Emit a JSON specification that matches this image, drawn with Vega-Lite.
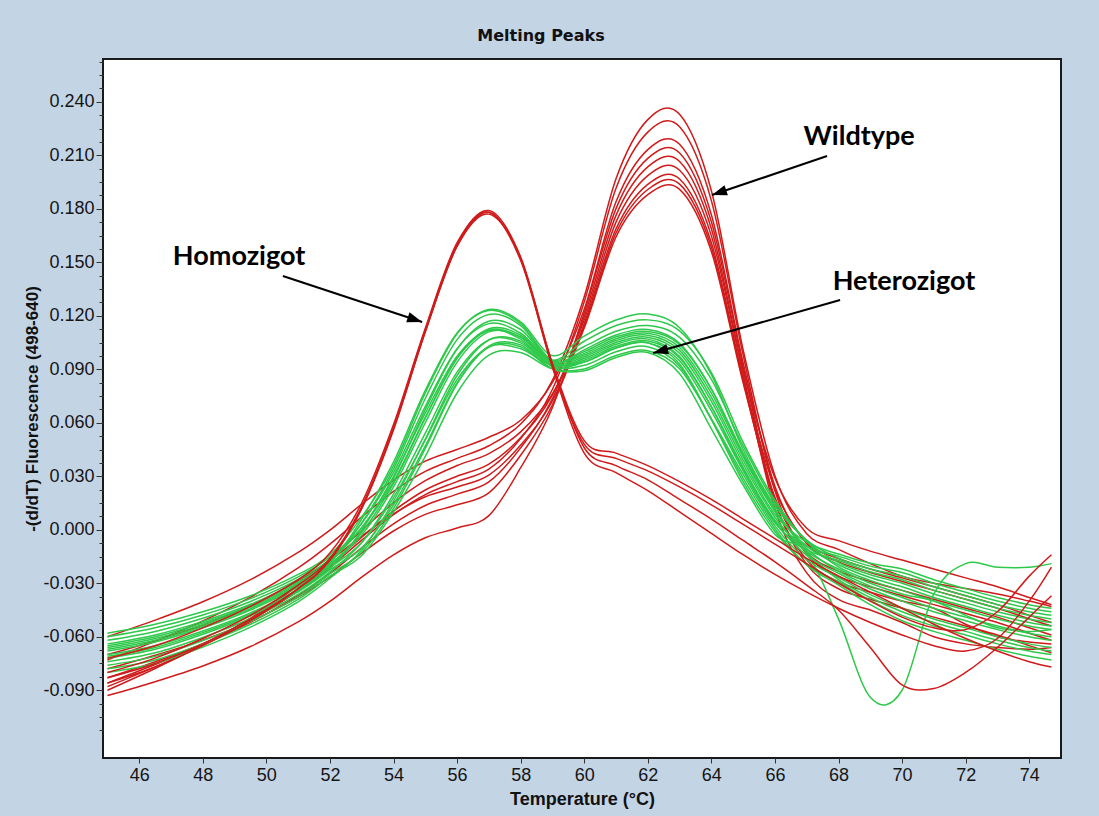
{
  "$schema": "https://vega.github.io/schema/vega-lite/v6.json",
  "width": 958,
  "height": 699,
  "autosize": {"type": "none"},
  "padding": {"left": 103, "top": 59, "right": 38, "bottom": 58},
  "background": "#c3d4e5",
  "title": {
    "text": "Melting Peaks",
    "font": "DejaVu Sans",
    "fontSize": 16,
    "fontWeight": "bold",
    "color": "#111111",
    "anchor": "middle",
    "dx": -41,
    "dy": 5,
    "offset": 1,
    "baseline": "alphabetic"
  },
  "config": {
    "view": {"fill": "white", "stroke": "#1a1a1a", "strokeWidth": 2}
  },
  "datasets": {
    "wildtype": [
      {"c":"W1","t":45,"v":-0.073},{"c":"W1","t":46.5,"v":-0.0626},{"c":"W1","t":48,"v":-0.0512},{"c":"W1","t":49.5,"v":-0.0378},{"c":"W1","t":51,"v":-0.0214},{"c":"W1","t":52,"v":-0.0081},{"c":"W1","t":53,"v":0.0072},{"c":"W1","t":54,"v":0.0215},{"c":"W1","t":55,"v":0.0327},{"c":"W1","t":56,"v":0.040},{"c":"W1","t":57,"v":0.0471},{"c":"W1","t":58,"v":0.0593},{"c":"W1","t":59,"v":0.0838},{"c":"W1","t":60,"v":0.1307},{"c":"W1","t":61,"v":0.1968},{"c":"W1","t":62,"v":0.2300},{"c":"W1","t":63,"v":0.2330},{"c":"W1","t":64,"v":0.1901},{"c":"W1","t":65,"v":0.1009},{"c":"W1","t":66,"v":0.0303},{"c":"W1","t":67,"v":-0.0022},{"c":"W1","t":68,"v":-0.011},{"c":"W1","t":69,"v":-0.019},{"c":"W1","t":70,"v":-0.026},{"c":"W1","t":71,"v":-0.030},{"c":"W1","t":72,"v":-0.033},{"c":"W1","t":73,"v":-0.036},{"c":"W1","t":74,"v":-0.040},{"c":"W1","t":74.7,"v":-0.043},
      {"c":"W2","t":45,"v":-0.086},{"c":"W2","t":46.5,"v":-0.0756},{"c":"W2","t":48,"v":-0.0642},{"c":"W2","t":49.5,"v":-0.0508},{"c":"W2","t":51,"v":-0.0344},{"c":"W2","t":52,"v":-0.0211},{"c":"W2","t":53,"v":-0.0058},{"c":"W2","t":54,"v":0.0085},{"c":"W2","t":55,"v":0.0197},{"c":"W2","t":56,"v":0.027},{"c":"W2","t":57,"v":0.034},{"c":"W2","t":58,"v":0.0511},{"c":"W2","t":59,"v":0.0788},{"c":"W2","t":60,"v":0.1278},{"c":"W2","t":61,"v":0.1915},{"c":"W2","t":62,"v":0.223},{"c":"W2","t":63,"v":0.226},{"c":"W2","t":64,"v":0.1846},{"c":"W2","t":65,"v":0.0979},{"c":"W2","t":66,"v":0.0218},{"c":"W2","t":67,"v":-0.0137},{"c":"W2","t":68,"v":-0.026},{"c":"W2","t":69,"v":-0.032},{"c":"W2","t":70,"v":-0.037},{"c":"W2","t":71,"v":-0.042},{"c":"W2","t":72,"v":-0.047},{"c":"W2","t":73,"v":-0.052},{"c":"W2","t":74,"v":-0.058},{"c":"W2","t":74.7,"v":-0.062},
      {"c":"W3","t":45,"v":-0.060},{"c":"W3","t":46.5,"v":-0.0507},{"c":"W3","t":48,"v":-0.0404},{"c":"W3","t":49.5,"v":-0.028},{"c":"W3","t":51,"v":-0.0127},{"c":"W3","t":52,"v":-0.0002},{"c":"W3","t":53,"v":0.0144},{"c":"W3","t":54,"v":0.0279},{"c":"W3","t":55,"v":0.0385},{"c":"W3","t":56,"v":0.045},{"c":"W3","t":57,"v":0.0519},{"c":"W3","t":58,"v":0.0614},{"c":"W3","t":59,"v":0.0826},{"c":"W3","t":60,"v":0.1237},{"c":"W3","t":61,"v":0.1839},{"c":"W3","t":62,"v":0.2132},{"c":"W3","t":63,"v":0.2162},{"c":"W3","t":64,"v":0.1767},{"c":"W3","t":65,"v":0.0936},{"c":"W3","t":66,"v":0.0244},{"c":"W3","t":67,"v":-0.0079},{"c":"W3","t":68,"v":-0.018},{"c":"W3","t":69,"v":-0.024},{"c":"W3","t":70,"v":-0.029},{"c":"W3","t":71,"v":-0.034},{"c":"W3","t":72,"v":-0.039},{"c":"W3","t":73,"v":-0.044},{"c":"W3","t":74,"v":-0.050},{"c":"W3","t":74.7,"v":-0.054},
      {"c":"W4","t":45,"v":-0.093},{"c":"W4","t":46.5,"v":-0.0852},{"c":"W4","t":48,"v":-0.0764},{"c":"W4","t":49.5,"v":-0.0655},{"c":"W4","t":51,"v":-0.0517},{"c":"W4","t":52,"v":-0.0402},{"c":"W4","t":53,"v":-0.0266},{"c":"W4","t":54,"v":-0.0141},{"c":"W4","t":55,"v":-0.0045},{"c":"W4","t":56,"v":0.001},{"c":"W4","t":57,"v":0.0079},{"c":"W4","t":58,"v":0.0348},{"c":"W4","t":59,"v":0.0686},{"c":"W4","t":60,"v":0.1217},{"c":"W4","t":61,"v":0.1801},{"c":"W4","t":62,"v":0.2083},{"c":"W4","t":63,"v":0.2113},{"c":"W4","t":64,"v":0.1727},{"c":"W4","t":65,"v":0.0914},{"c":"W4","t":66,"v":0.0162},{"c":"W4","t":67,"v":-0.0194},{"c":"W4","t":68,"v":-0.0331},{"c":"W4","t":69,"v":-0.039},{"c":"W4","t":70,"v":-0.044},{"c":"W4","t":71,"v":-0.049},{"c":"W4","t":72,"v":-0.054},{"c":"W4","t":73,"v":-0.059},{"c":"W4","t":74,"v":-0.065},{"c":"W4","t":74.7,"v":-0.069},
      {"c":"W5","t":45,"v":-0.083},{"c":"W5","t":46.5,"v":-0.074},{"c":"W5","t":48,"v":-0.0639},{"c":"W5","t":49.5,"v":-0.0519},{"c":"W5","t":51,"v":-0.0368},{"c":"W5","t":52,"v":-0.0245},{"c":"W5","t":53,"v":-0.0101},{"c":"W5","t":54,"v":0.0033},{"c":"W5","t":55,"v":0.0136},{"c":"W5","t":56,"v":0.020},{"c":"W5","t":57,"v":0.0268},{"c":"W5","t":58,"v":0.0459},{"c":"W5","t":59,"v":0.0735},{"c":"W5","t":60,"v":0.1196},{"c":"W5","t":61,"v":0.1763},{"c":"W5","t":62,"v":0.2035},{"c":"W5","t":63,"v":0.2065},{"c":"W5","t":64,"v":0.1688},{"c":"W5","t":65,"v":0.0893},{"c":"W5","t":66,"v":0.029},{"c":"W5","t":67,"v":0.0008},{"c":"W5","t":68,"v":-0.0061},{"c":"W5","t":69,"v":-0.012},{"c":"W5","t":70,"v":-0.017},{"c":"W5","t":71,"v":-0.022},{"c":"W5","t":72,"v":-0.027},{"c":"W5","t":73,"v":-0.032},{"c":"W5","t":74,"v":-0.038},{"c":"W5","t":74.7,"v":-0.042},
      {"c":"W6","t":45,"v":-0.088},{"c":"W6","t":46.5,"v":-0.0769},{"c":"W6","t":48,"v":-0.0648},{"c":"W6","t":49.5,"v":-0.0507},{"c":"W6","t":51,"v":-0.0336},{"c":"W6","t":52,"v":-0.0199},{"c":"W6","t":53,"v":-0.0042},{"c":"W6","t":54,"v":0.0105},{"c":"W6","t":55,"v":0.0223},{"c":"W6","t":56,"v":0.030},{"c":"W6","t":57,"v":0.0368},{"c":"W6","t":58,"v":0.0517},{"c":"W6","t":59,"v":0.0757},{"c":"W6","t":60,"v":0.1176},{"c":"W6","t":61,"v":0.1725},{"c":"W6","t":62,"v":0.1986},{"c":"W6","t":63,"v":0.2016},{"c":"W6","t":64,"v":0.1648},{"c":"W6","t":65,"v":0.0871},{"c":"W6","t":66,"v":0.0118},{"c":"W6","t":67,"v":-0.0242},{"c":"W6","t":68,"v":-0.0391},{"c":"W6","t":69,"v":-0.045},{"c":"W6","t":70,"v":-0.052},{"c":"W6","t":71,"v":-0.060},{"c":"W6","t":72,"v":-0.064},{"c":"W6","t":73,"v":-0.066},{"c":"W6","t":74,"v":-0.067},{"c":"W6","t":74.7,"v":-0.066},
      {"c":"W7","t":45,"v":-0.078},{"c":"W7","t":46.5,"v":-0.0704},{"c":"W7","t":48,"v":-0.0619},{"c":"W7","t":49.5,"v":-0.0514},{"c":"W7","t":51,"v":-0.0378},{"c":"W7","t":52,"v":-0.0264},{"c":"W7","t":53,"v":-0.0131},{"c":"W7","t":54,"v":-0.0007},{"c":"W7","t":55,"v":0.0086},{"c":"W7","t":56,"v":0.014},{"c":"W7","t":57,"v":0.0207},{"c":"W7","t":58,"v":0.0418},{"c":"W7","t":59,"v":0.0701},{"c":"W7","t":60,"v":0.1155},{"c":"W7","t":61,"v":0.1687},{"c":"W7","t":62,"v":0.1937},{"c":"W7","t":63,"v":0.1967},{"c":"W7","t":64,"v":0.1609},{"c":"W7","t":65,"v":0.085},{"c":"W7","t":66,"v":0.0226},{"c":"W7","t":67,"v":-0.007},{"c":"W7","t":68,"v":-0.0161},{"c":"W7","t":69,"v":-0.022},{"c":"W7","t":70,"v":-0.027},{"c":"W7","t":71,"v":-0.032},{"c":"W7","t":72,"v":-0.037},{"c":"W7","t":73,"v":-0.042},{"c":"W7","t":74,"v":-0.048},{"c":"W7","t":74.7,"v":-0.052},
      {"c":"W8","t":45,"v":-0.090},{"c":"W8","t":46.5,"v":-0.0778},{"c":"W8","t":48,"v":-0.0646},{"c":"W8","t":49.5,"v":-0.0495},{"c":"W8","t":51,"v":-0.0313},{"c":"W8","t":52,"v":-0.0168},{"c":"W8","t":53,"v":-0.0004},{"c":"W8","t":54,"v":0.0151},{"c":"W8","t":55,"v":0.0275},{"c":"W8","t":56,"v":0.036},{"c":"W8","t":57,"v":0.0427},{"c":"W8","t":58,"v":0.0549},{"c":"W8","t":59,"v":0.0762},{"c":"W8","t":60,"v":0.1143},{"c":"W8","t":61,"v":0.1664},{"c":"W8","t":62,"v":0.1908},{"c":"W8","t":63,"v":0.1938},{"c":"W8","t":64,"v":0.1585},{"c":"W8","t":65,"v":0.0837},{"c":"W8","t":66,"v":0.0157},{"c":"W8","t":67,"v":-0.0169},{"c":"W8","t":68,"v":-0.0292},{"c":"W8","t":69,"v":-0.035},{"c":"W8","t":70,"v":-0.040},{"c":"W8","t":71,"v":-0.044},{"c":"W8","t":72,"v":-0.053},{"c":"W8","t":73,"v":-0.060},{"c":"W8","t":74,"v":-0.063},{"c":"W8","t":74.7,"v":-0.064},
      {"c":"W9","t":45,"v":-0.070},{"c":"W9","t":46.5,"v":-0.0622},{"c":"W9","t":48,"v":-0.0534},{"c":"W9","t":49.5,"v":-0.0425},{"c":"W9","t":51,"v":-0.0287},{"c":"W9","t":52,"v":-0.0172},{"c":"W9","t":53,"v":-0.0036},{"c":"W9","t":54,"v":0.0089},{"c":"W9","t":55,"v":0.0185},{"c":"W9","t":56,"v":0.024},{"c":"W9","t":57,"v":0.0307},{"c":"W9","t":58,"v":0.0475},{"c":"W9","t":59,"v":0.0722},{"c":"W9","t":60,"v":0.1131},{"c":"W9","t":61,"v":0.1642},{"c":"W9","t":62,"v":0.1879},{"c":"W9","t":63,"v":0.1909},{"c":"W9","t":64,"v":0.1561},{"c":"W9","t":65,"v":0.0824},{"c":"W9","t":66,"v":0.0182},{"c":"W9","t":67,"v":-0.0125},{"c":"W9","t":68,"v":-0.0232},{"c":"W9","t":69,"v":-0.029},{"c":"W9","t":70,"v":-0.034},{"c":"W9","t":71,"v":-0.039},{"c":"W9","t":72,"v":-0.044},{"c":"W9","t":73,"v":-0.049},{"c":"W9","t":74,"v":-0.055},{"c":"W9","t":74.7,"v":-0.059}
    ],
    "homozygous": [
      {"c":"H1","t":45,"v":-0.080},{"c":"H1","t":46.5,"v":-0.072},{"c":"H1","t":48,"v":-0.061},{"c":"H1","t":49.5,"v":-0.048},{"c":"H1","t":51,"v":-0.031},{"c":"H1","t":52,"v":-0.016},{"c":"H1","t":53,"v":0.013},{"c":"H1","t":54,"v":0.057},{"c":"H1","t":55,"v":0.112},{"c":"H1","t":56,"v":0.160},{"c":"H1","t":57,"v":0.179},{"c":"H1","t":58,"v":0.153},{"c":"H1","t":59,"v":0.093},{"c":"H1","t":60,"v":0.046},{"c":"H1","t":61,"v":0.036},{"c":"H1","t":62,"v":0.028},{"c":"H1","t":63,"v":0.017},{"c":"H1","t":64,"v":0.006},{"c":"H1","t":65,"v":-0.006},{"c":"H1","t":66,"v":-0.018},{"c":"H1","t":67,"v":-0.031},{"c":"H1","t":68,"v":-0.045},{"c":"H1","t":69,"v":-0.066},{"c":"H1","t":70,"v":-0.087},{"c":"H1","t":71,"v":-0.089},{"c":"H1","t":72,"v":-0.080},{"c":"H1","t":73,"v":-0.066},{"c":"H1","t":74,"v":-0.049},{"c":"H1","t":74.7,"v":-0.037},
      {"c":"H2","t":45,"v":-0.086},{"c":"H2","t":46.5,"v":-0.077},{"c":"H2","t":48,"v":-0.065},{"c":"H2","t":49.5,"v":-0.051},{"c":"H2","t":51,"v":-0.033},{"c":"H2","t":52,"v":-0.017},{"c":"H2","t":53,"v":0.012},{"c":"H2","t":54,"v":0.056},{"c":"H2","t":55,"v":0.111},{"c":"H2","t":56,"v":0.159},{"c":"H2","t":57,"v":0.177},{"c":"H2","t":58,"v":0.152},{"c":"H2","t":59,"v":0.092},{"c":"H2","t":60,"v":0.048},{"c":"H2","t":61,"v":0.040},{"c":"H2","t":62,"v":0.033},{"c":"H2","t":63,"v":0.024},{"c":"H2","t":64,"v":0.014},{"c":"H2","t":65,"v":0.003},{"c":"H2","t":66,"v":-0.008},{"c":"H2","t":67,"v":-0.019},{"c":"H2","t":68,"v":-0.030},{"c":"H2","t":69,"v":-0.040},{"c":"H2","t":70,"v":-0.049},{"c":"H2","t":71,"v":-0.055},{"c":"H2","t":72,"v":-0.056},{"c":"H2","t":73,"v":-0.046},{"c":"H2","t":74,"v":-0.026},{"c":"H2","t":74.7,"v":-0.014},
      {"c":"H3","t":45,"v":-0.072},{"c":"H3","t":46.5,"v":-0.065},{"c":"H3","t":48,"v":-0.055},{"c":"H3","t":49.5,"v":-0.043},{"c":"H3","t":51,"v":-0.028},{"c":"H3","t":52,"v":-0.013},{"c":"H3","t":53,"v":0.015},{"c":"H3","t":54,"v":0.059},{"c":"H3","t":55,"v":0.113},{"c":"H3","t":56,"v":0.161},{"c":"H3","t":57,"v":0.178},{"c":"H3","t":58,"v":0.151},{"c":"H3","t":59,"v":0.091},{"c":"H3","t":60,"v":0.043},{"c":"H3","t":61,"v":0.032},{"c":"H3","t":62,"v":0.022},{"c":"H3","t":63,"v":0.010},{"c":"H3","t":64,"v":-0.002},{"c":"H3","t":65,"v":-0.014},{"c":"H3","t":66,"v":-0.025},{"c":"H3","t":67,"v":-0.035},{"c":"H3","t":68,"v":-0.044},{"c":"H3","t":69,"v":-0.052},{"c":"H3","t":70,"v":-0.059},{"c":"H3","t":71,"v":-0.065},{"c":"H3","t":72,"v":-0.068},{"c":"H3","t":73,"v":-0.061},{"c":"H3","t":74,"v":-0.040},{"c":"H3","t":74.7,"v":-0.021},
      {"c":"H4","t":45,"v":-0.083},{"c":"H4","t":46.5,"v":-0.075},{"c":"H4","t":48,"v":-0.064},{"c":"H4","t":49.5,"v":-0.050},{"c":"H4","t":51,"v":-0.033},{"c":"H4","t":52,"v":-0.017},{"c":"H4","t":53,"v":0.012},{"c":"H4","t":54,"v":0.057},{"c":"H4","t":55,"v":0.111},{"c":"H4","t":56,"v":0.159},{"c":"H4","t":57,"v":0.178},{"c":"H4","t":58,"v":0.152},{"c":"H4","t":59,"v":0.093},{"c":"H4","t":60,"v":0.050},{"c":"H4","t":61,"v":0.043},{"c":"H4","t":62,"v":0.036},{"c":"H4","t":63,"v":0.027},{"c":"H4","t":64,"v":0.017},{"c":"H4","t":65,"v":0.006},{"c":"H4","t":66,"v":-0.005},{"c":"H4","t":67,"v":-0.016},{"c":"H4","t":68,"v":-0.026},{"c":"H4","t":69,"v":-0.035},{"c":"H4","t":70,"v":-0.044},{"c":"H4","t":71,"v":-0.053},{"c":"H4","t":72,"v":-0.061},{"c":"H4","t":73,"v":-0.068},{"c":"H4","t":74,"v":-0.074},{"c":"H4","t":74.7,"v":-0.077}
    ],
    "heterozygous": [
      {"c":"G1","t":45,"v":-0.058},{"c":"G1","t":46.5,"v":-0.053},{"c":"G1","t":48,"v":-0.046},{"c":"G1","t":49.5,"v":-0.037},{"c":"G1","t":51,"v":-0.025},{"c":"G1","t":52,"v":-0.014},{"c":"G1","t":53,"v":0.0072},{"c":"G1","t":54,"v":0.036},{"c":"G1","t":55,"v":0.0768},{"c":"G1","t":56,"v":0.1099},{"c":"G1","t":57,"v":0.1235},{"c":"G1","t":58,"v":0.1166},{"c":"G1","t":59,"v":0.0977},{"c":"G1","t":60,"v":0.1086},{"c":"G1","t":61,"v":0.1176},{"c":"G1","t":62,"v":0.121},{"c":"G1","t":63,"v":0.1133},{"c":"G1","t":64,"v":0.087},{"c":"G1","t":65,"v":0.045},{"c":"G1","t":66,"v":0.0134},{"c":"G1","t":67,"v":-0.0058},{"c":"G1","t":68,"v":-0.016},{"c":"G1","t":69,"v":-0.022},{"c":"G1","t":70,"v":-0.026},{"c":"G1","t":71,"v":-0.032},{"c":"G1","t":72,"v":-0.037},{"c":"G1","t":73,"v":-0.042},{"c":"G1","t":74,"v":-0.046},{"c":"G1","t":74.7,"v":-0.048},
      {"c":"G2","t":45,"v":-0.072},{"c":"G2","t":46.5,"v":-0.067},{"c":"G2","t":48,"v":-0.0586},{"c":"G2","t":49.5,"v":-0.0482},{"c":"G2","t":51,"v":-0.0348},{"c":"G2","t":52,"v":-0.0224},{"c":"G2","t":53,"v":-0.0102},{"c":"G2","t":54,"v":0.014},{"c":"G2","t":55,"v":0.047},{"c":"G2","t":56,"v":0.0823},{"c":"G2","t":57,"v":0.1025},{"c":"G2","t":58,"v":0.1026},{"c":"G2","t":59,"v":0.0902},{"c":"G2","t":60,"v":0.0902},{"c":"G2","t":61,"v":0.0977},{"c":"G2","t":62,"v":0.1004},{"c":"G2","t":63,"v":0.0903},{"c":"G2","t":64,"v":0.0622},{"c":"G2","t":65,"v":0.031},{"c":"G2","t":66,"v":0.0022},{"c":"G2","t":67,"v":-0.0168},{"c":"G2","t":68,"v":-0.0268},{"c":"G2","t":69,"v":-0.0364},{"c":"G2","t":70,"v":-0.044},{"c":"G2","t":71,"v":-0.050},{"c":"G2","t":72,"v":-0.055},{"c":"G2","t":73,"v":-0.060},{"c":"G2","t":74,"v":-0.064},{"c":"G2","t":74.7,"v":-0.066},
      {"c":"G3","t":45,"v":-0.064},{"c":"G3","t":46.5,"v":-0.059},{"c":"G3","t":48,"v":-0.0514},{"c":"G3","t":49.5,"v":-0.0418},{"c":"G3","t":51,"v":-0.0292},{"c":"G3","t":52,"v":-0.0176},{"c":"G3","t":53,"v":0.0012},{"c":"G3","t":54,"v":0.029},{"c":"G3","t":55,"v":0.0674},{"c":"G3","t":56,"v":0.1013},{"c":"G3","t":57,"v":0.1169},{"c":"G3","t":58,"v":0.1123},{"c":"G3","t":59,"v":0.0944},{"c":"G3","t":60,"v":0.0989},{"c":"G3","t":61,"v":0.1071},{"c":"G3","t":62,"v":0.1102},{"c":"G3","t":63,"v":0.1022},{"c":"G3","t":64,"v":0.0766},{"c":"G3","t":65,"v":0.041},{"c":"G3","t":66,"v":0.0102},{"c":"G3","t":67,"v":-0.0092},{"c":"G3","t":68,"v":-0.0196},{"c":"G3","t":69,"v":-0.0268},{"c":"G3","t":70,"v":-0.032},{"c":"G3","t":71,"v":-0.038},{"c":"G3","t":72,"v":-0.043},{"c":"G3","t":73,"v":-0.048},{"c":"G3","t":74,"v":-0.052},{"c":"G3","t":74.7,"v":-0.054},
      {"c":"G4","t":45,"v":-0.078},{"c":"G4","t":46.5,"v":-0.073},{"c":"G4","t":48,"v":-0.064},{"c":"G4","t":49.5,"v":-0.053},{"c":"G4","t":51,"v":-0.039},{"c":"G4","t":52,"v":-0.026},{"c":"G4","t":53,"v":-0.0144},{"c":"G4","t":54,"v":0.010},{"c":"G4","t":55,"v":0.0412},{"c":"G4","t":56,"v":0.0767},{"c":"G4","t":57,"v":0.0979},{"c":"G4","t":58,"v":0.0994},{"c":"G4","t":59,"v":0.0904},{"c":"G4","t":60,"v":0.0941},{"c":"G4","t":61,"v":0.1019},{"c":"G4","t":62,"v":0.1048},{"c":"G4","t":63,"v":0.093},{"c":"G4","t":64,"v":0.0618},{"c":"G4","t":65,"v":0.027},{"c":"G4","t":66,"v":-0.001},{"c":"G4","t":67,"v":-0.0196},{"c":"G4","t":68,"v":-0.0292},{"c":"G4","t":69,"v":-0.0396},{"c":"G4","t":70,"v":-0.048},{"c":"G4","t":71,"v":-0.054},{"c":"G4","t":72,"v":-0.059},{"c":"G4","t":73,"v":-0.064},{"c":"G4","t":74,"v":-0.068},{"c":"G4","t":74.7,"v":-0.070},
      {"c":"G5","t":45,"v":-0.068},{"c":"G5","t":46.5,"v":-0.063},{"c":"G5","t":48,"v":-0.055},{"c":"G5","t":49.5,"v":-0.045},{"c":"G5","t":51,"v":-0.032},{"c":"G5","t":52,"v":-0.020},{"c":"G5","t":53,"v":-0.003},{"c":"G5","t":54,"v":0.024},{"c":"G5","t":55,"v":0.060},{"c":"G5","t":56,"v":0.094},{"c":"G5","t":57,"v":0.111},{"c":"G5","t":58,"v":0.108},{"c":"G5","t":59,"v":0.093},{"c":"G5","t":60,"v":0.097},{"c":"G5","t":61,"v":0.105},{"c":"G5","t":62,"v":0.108},{"c":"G5","t":63,"v":0.099},{"c":"G5","t":64,"v":0.072},{"c":"G5","t":65,"v":0.037},{"c":"G5","t":66,"v":0.007},{"c":"G5","t":67,"v":-0.012},{"c":"G5","t":68,"v":-0.022},{"c":"G5","t":69,"v":-0.030},{"c":"G5","t":70,"v":-0.036},{"c":"G5","t":71,"v":-0.040},{"c":"G5","t":72,"v":-0.048},{"c":"G5","t":73,"v":-0.055},{"c":"G5","t":74,"v":-0.057},{"c":"G5","t":74.7,"v":-0.056},
      {"c":"G6","t":45,"v":-0.062},{"c":"G6","t":46.5,"v":-0.057},{"c":"G6","t":48,"v":-0.0496},{"c":"G6","t":49.5,"v":-0.0402},{"c":"G6","t":51,"v":-0.0278},{"c":"G6","t":52,"v":-0.0164},{"c":"G6","t":53,"v":0.0036},{"c":"G6","t":54,"v":0.032},{"c":"G6","t":55,"v":0.0692},{"c":"G6","t":56,"v":0.1015},{"c":"G6","t":57,"v":0.1156},{"c":"G6","t":58,"v":0.1102},{"c":"G6","t":59,"v":0.0949},{"c":"G6","t":60,"v":0.1028},{"c":"G6","t":61,"v":0.1113},{"c":"G6","t":62,"v":0.1145},{"c":"G6","t":63,"v":0.1079},{"c":"G6","t":64,"v":0.0843},{"c":"G6","t":65,"v":0.047},{"c":"G6","t":66,"v":0.015},{"c":"G6","t":67,"v":-0.0062},{"c":"G6","t":68,"v":-0.0184},{"c":"G6","t":69,"v":-0.0252},{"c":"G6","t":70,"v":-0.030},{"c":"G6","t":71,"v":-0.036},{"c":"G6","t":72,"v":-0.041},{"c":"G6","t":73,"v":-0.046},{"c":"G6","t":74,"v":-0.050},{"c":"G6","t":74.7,"v":-0.052},
      {"c":"G7","t":45,"v":-0.074},{"c":"G7","t":46.5,"v":-0.069},{"c":"G7","t":48,"v":-0.0604},{"c":"G7","t":49.5,"v":-0.0498},{"c":"G7","t":51,"v":-0.0362},{"c":"G7","t":52,"v":-0.0236},{"c":"G7","t":53,"v":-0.0072},{"c":"G7","t":54,"v":0.020},{"c":"G7","t":55,"v":0.0542},{"c":"G7","t":56,"v":0.0884},{"c":"G7","t":57,"v":0.1065},{"c":"G7","t":58,"v":0.1048},{"c":"G7","t":59,"v":0.0921},{"c":"G7","t":60,"v":0.096},{"c":"G7","t":61,"v":0.104},{"c":"G7","t":62,"v":0.1069},{"c":"G7","t":63,"v":0.0971},{"c":"G7","t":64,"v":0.0689},{"c":"G7","t":65,"v":0.034},{"c":"G7","t":66,"v":0.0046},{"c":"G7","t":67,"v":-0.0144},{"c":"G7","t":68,"v":-0.0244},{"c":"G7","t":69,"v":-0.0332},{"c":"G7","t":70,"v":-0.040},{"c":"G7","t":71,"v":-0.046},{"c":"G7","t":72,"v":-0.051},{"c":"G7","t":73,"v":-0.056},{"c":"G7","t":74,"v":-0.060},{"c":"G7","t":74.7,"v":-0.062},
      {"c":"G8","t":45,"v":-0.066},{"c":"G8","t":46.5,"v":-0.061},{"c":"G8","t":48,"v":-0.0532},{"c":"G8","t":49.5,"v":-0.0434},{"c":"G8","t":51,"v":-0.0306},{"c":"G8","t":52,"v":-0.0188},{"c":"G8","t":53,"v":0.006},{"c":"G8","t":54,"v":0.038},{"c":"G8","t":55,"v":0.0782},{"c":"G8","t":56,"v":0.1104},{"c":"G8","t":57,"v":0.123},{"c":"G8","t":58,"v":0.1156},{"c":"G8","t":59,"v":0.0949},{"c":"G8","t":60,"v":0.098},{"c":"G8","t":61,"v":0.1061},{"c":"G8","t":62,"v":0.1091},{"c":"G8","t":63,"v":0.1006},{"c":"G8","t":64,"v":0.0743},{"c":"G8","t":65,"v":0.039},{"c":"G8","t":66,"v":0.0086},{"c":"G8","t":67,"v":-0.007},{"c":"G8","t":68,"v":-0.0136},{"c":"G8","t":69,"v":-0.0188},{"c":"G8","t":70,"v":-0.022},{"c":"G8","t":71,"v":-0.028},{"c":"G8","t":72,"v":-0.033},{"c":"G8","t":73,"v":-0.038},{"c":"G8","t":74,"v":-0.042},{"c":"G8","t":74.7,"v":-0.044},
      {"c":"G9","t":45,"v":-0.080},{"c":"G9","t":46.5,"v":-0.075},{"c":"G9","t":48,"v":-0.0658},{"c":"G9","t":49.5,"v":-0.0546},{"c":"G9","t":51,"v":-0.0404},{"c":"G9","t":52,"v":-0.0272},{"c":"G9","t":53,"v":-0.0114},{"c":"G9","t":54,"v":0.016},{"c":"G9","t":55,"v":0.0508},{"c":"G9","t":56,"v":0.0865},{"c":"G9","t":57,"v":0.1064},{"c":"G9","t":58,"v":0.1058},{"c":"G9","t":59,"v":0.0914},{"c":"G9","t":60,"v":0.0922},{"c":"G9","t":61,"v":0.0998},{"c":"G9","t":62,"v":0.1026},{"c":"G9","t":63,"v":0.0917},{"c":"G9","t":64,"v":0.062},{"c":"G9","t":65,"v":0.029},{"c":"G9","t":66,"v":0.0006},{"c":"G9","t":67,"v":-0.0197},{"c":"G9","t":68,"v":-0.031},{"c":"G9","t":69,"v":-0.042},{"c":"G9","t":70,"v":-0.051},{"c":"G9","t":71,"v":-0.057},{"c":"G9","t":72,"v":-0.062},{"c":"G9","t":73,"v":-0.067},{"c":"G9","t":74,"v":-0.071},{"c":"G9","t":74.7,"v":-0.073},
      {"c":"G10","t":45,"v":-0.060},{"c":"G10","t":46.5,"v":-0.055},{"c":"G10","t":48,"v":-0.0478},{"c":"G10","t":49.5,"v":-0.0386},{"c":"G10","t":51,"v":-0.0264},{"c":"G10","t":52,"v":-0.0152},{"c":"G10","t":53,"v":0.0012},{"c":"G10","t":54,"v":0.027},{"c":"G10","t":55,"v":0.063},{"c":"G10","t":56,"v":0.0961},{"c":"G10","t":57,"v":0.1119},{"c":"G10","t":58,"v":0.108},{"c":"G10","t":59,"v":0.0951},{"c":"G10","t":60,"v":0.1057},{"c":"G10","t":61,"v":0.1145},{"c":"G10","t":62,"v":0.1177},{"c":"G10","t":63,"v":0.1115},{"c":"G10","t":64,"v":0.0881},{"c":"G10","t":65,"v":0.049},{"c":"G10","t":66,"v":0.0166},{"c":"G10","t":67,"v":-0.0066},{"c":"G10","t":68,"v":-0.0208},{"c":"G10","t":69,"v":-0.0284},{"c":"G10","t":70,"v":-0.034},{"c":"G10","t":71,"v":-0.040},{"c":"G10","t":72,"v":-0.045},{"c":"G10","t":73,"v":-0.050},{"c":"G10","t":74,"v":-0.054},{"c":"G10","t":74.7,"v":-0.056},
      {"c":"G11","t":45,"v":-0.070},{"c":"G11","t":46.5,"v":-0.065},{"c":"G11","t":48,"v":-0.0568},{"c":"G11","t":49.5,"v":-0.0466},{"c":"G11","t":51,"v":-0.0334},{"c":"G11","t":52,"v":-0.0212},{"c":"G11","t":53,"v":-0.0072},{"c":"G11","t":54,"v":0.018},{"c":"G11","t":55,"v":0.0504},{"c":"G11","t":56,"v":0.0842},{"c":"G11","t":57,"v":0.1025},{"c":"G11","t":58,"v":0.1015},{"c":"G11","t":59,"v":0.0925},{"c":"G11","t":60,"v":0.1009},{"c":"G11","t":61,"v":0.1092},{"c":"G11","t":62,"v":0.1123},{"c":"G11","t":63,"v":0.1045},{"c":"G11","t":64,"v":0.0789},{"c":"G11","t":65,"v":0.042},{"c":"G11","t":66,"v":0.011},{"c":"G11","t":67,"v":-0.0106},{"c":"G11","t":68,"v":-0.0232},{"c":"G11","t":69,"v":-0.0316},{"c":"G11","t":70,"v":-0.038},{"c":"G11","t":71,"v":-0.044},{"c":"G11","t":72,"v":-0.049},{"c":"G11","t":73,"v":-0.054},{"c":"G11","t":74,"v":-0.058},{"c":"G11","t":74.7,"v":-0.060},
      {"c":"G12","t":45,"v":-0.065},{"c":"G12","t":46.5,"v":-0.060},{"c":"G12","t":48,"v":-0.0523},{"c":"G12","t":49.5,"v":-0.0426},{"c":"G12","t":51,"v":-0.0299},{"c":"G12","t":52,"v":-0.0182},{"c":"G12","t":53,"v":0.0039},{"c":"G12","t":54,"v":0.034},{"c":"G12","t":55,"v":0.0736},{"c":"G12","t":56,"v":0.1066},{"c":"G12","t":57,"v":0.1207},{"c":"G12","t":58,"v":0.1145},{"c":"G12","t":59,"v":0.0937},{"c":"G12","t":60,"v":0.0941},{"c":"G12","t":61,"v":0.1019},{"c":"G12","t":62,"v":0.1048},{"c":"G12","t":63,"v":0.0948},{"c":"G12","t":64,"v":0.0666},{"c":"G12","t":65,"v":0.033},{"c":"G12","t":66,"v":0.0038},{"c":"G12","t":67,"v":-0.0112},{"c":"G12","t":68,"v":-0.0172},{"c":"G12","t":69,"v":-0.0236},{"c":"G12","t":70,"v":-0.028},{"c":"G12","t":71,"v":-0.034},{"c":"G12","t":72,"v":-0.039},{"c":"G12","t":73,"v":-0.044},{"c":"G12","t":74,"v":-0.048},{"c":"G12","t":74.7,"v":-0.050},
      {"c":"G13","t":45,"v":-0.076},{"c":"G13","t":46.5,"v":-0.071},{"c":"G13","t":48,"v":-0.0622},{"c":"G13","t":49.5,"v":-0.0514},{"c":"G13","t":51,"v":-0.0376},{"c":"G13","t":52,"v":-0.0248},{"c":"G13","t":53,"v":-0.0126},{"c":"G13","t":54,"v":0.012},{"c":"G13","t":55,"v":0.0456},{"c":"G13","t":56,"v":0.0818},{"c":"G13","t":57,"v":0.103},{"c":"G13","t":58,"v":0.1037},{"c":"G13","t":59,"v":0.0902},{"c":"G13","t":60,"v":0.0892},{"c":"G13","t":61,"v":0.0966},{"c":"G13","t":62,"v":0.0994},{"c":"G13","t":63,"v":0.0875},{"c":"G13","t":64,"v":0.0566},{"c":"G13","t":65,"v":0.025},{"c":"G13","t":66,"v":-0.0026},{"c":"G13","t":67,"v":-0.013},{"c":"G13","t":68,"v":-0.050},{"c":"G13","t":69,"v":-0.094},{"c":"G13","t":70,"v":-0.090},{"c":"G13","t":71,"v":-0.036},{"c":"G13","t":72,"v":-0.019},{"c":"G13","t":73,"v":-0.021},{"c":"G13","t":74,"v":-0.021},{"c":"G13","t":74.7,"v":-0.019},
      {"c":"G14","t":45,"v":-0.067},{"c":"G14","t":46.5,"v":-0.062},{"c":"G14","t":48,"v":-0.0541},{"c":"G14","t":49.5,"v":-0.0442},{"c":"G14","t":51,"v":-0.0313},{"c":"G14","t":52,"v":-0.0194},{"c":"G14","t":53,"v":-0.0015},{"c":"G14","t":54,"v":0.026},{"c":"G14","t":55,"v":0.0626},{"c":"G14","t":56,"v":0.0963},{"c":"G14","t":57,"v":0.1127},{"c":"G14","t":58,"v":0.1091},{"c":"G14","t":59,"v":0.0939},{"c":"G14","t":60,"v":0.0999},{"c":"G14","t":61,"v":0.1082},{"c":"G14","t":62,"v":0.1112},{"c":"G14","t":63,"v":0.1038},{"c":"G14","t":64,"v":0.079},{"c":"G14","t":65,"v":0.043},{"c":"G14","t":66,"v":0.0118},{"c":"G14","t":67,"v":-0.0126},{"c":"G14","t":68,"v":-0.028},{"c":"G14","t":69,"v":-0.038},{"c":"G14","t":70,"v":-0.046},{"c":"G14","t":71,"v":-0.052},{"c":"G14","t":72,"v":-0.057},{"c":"G14","t":73,"v":-0.062},{"c":"G14","t":74,"v":-0.066},{"c":"G14","t":74.7,"v":-0.068},
      {"c":"G15","t":45,"v":-0.071},{"c":"G15","t":46.5,"v":-0.066},{"c":"G15","t":48,"v":-0.0577},{"c":"G15","t":49.5,"v":-0.0474},{"c":"G15","t":51,"v":-0.0341},{"c":"G15","t":52,"v":-0.0218},{"c":"G15","t":53,"v":-0.0003},{"c":"G15","t":54,"v":0.030},{"c":"G15","t":55,"v":0.0654},{"c":"G15","t":56,"v":0.0973},{"c":"G15","t":57,"v":0.1117},{"c":"G15","t":58,"v":0.1069},{"c":"G15","t":59,"v":0.0923},{"c":"G15","t":60,"v":0.0951},{"c":"G15","t":61,"v":0.1029},{"c":"G15","t":62,"v":0.1058},{"c":"G15","t":63,"v":0.0964},{"c":"G15","t":64,"v":0.069},{"c":"G15","t":65,"v":0.035},{"c":"G15","t":66,"v":0.0054},{"c":"G15","t":67,"v":-0.0092},{"c":"G15","t":68,"v":-0.0148},{"c":"G15","t":69,"v":-0.0204},{"c":"G15","t":70,"v":-0.024},{"c":"G15","t":71,"v":-0.030},{"c":"G15","t":72,"v":-0.035},{"c":"G15","t":73,"v":-0.040},{"c":"G15","t":74,"v":-0.044},{"c":"G15","t":74.7,"v":-0.046}
    ],
    "labels": [
      {"label": "Homozigot", "t": 49.14, "v": 0.1485},
      {"label": "Wildtype", "t": 68.65, "v": 0.2158},
      {"label": "Heterozigot", "t": 70.06, "v": 0.1344}
    ],
    "arrows": [
      {"n": "Homozigot", "t": 50.52, "v": 0.1423, "t2": 54.90, "v2": 0.1165},
      {"n": "Wildtype", "t": 67.64, "v": 0.2096, "t2": 64.02, "v2": 0.1877},
      {"n": "Heterozigot", "t": 68.05, "v": 0.1288, "t2": 62.17, "v2": 0.0991}
    ]
  },
  "layer": [
    {
      "data": {"name": "wildtype"},
      "mark": {"type": "line", "color": "#cf1b1b", "strokeWidth": 1.5, "interpolate": "cardinal", "tension": 0, "clip": true},
      "encoding": {
        "x": {
          "field": "t",
          "type": "quantitative",
          "scale": {"domain": [44.86, 75], "nice": false, "zero": false},
          "axis": {
            "values": [46, 48, 50, 52, 54, 56, 58, 60, 62, 64, 66, 68, 70, 72, 74],
            "tickCount": 30,
            "format": "d",
            "title": "Temperature (°C)",
            "domain": false,
            "grid": false,
            "tickSize": 5,
            "tickColor": "#333333",
            "labelFont": "Liberation Sans",
            "labelFontSize": 18,
            "labelColor": "#151515",
            "labelPadding": 3,
            "titleFont": "Liberation Sans",
            "titleFontSize": 18,
            "titleFontWeight": "bold",
            "titleColor": "#111111",
            "titleX": 479,
            "titleY": 46,
            "titleBaseline": "alphabetic"
          }
        },
        "y": {
          "field": "v",
          "type": "quantitative",
          "scale": {"domain": [-0.128, 0.264], "nice": false, "zero": false},
          "axis": {
            "values": [-0.1125,-0.105,-0.0975,-0.09,-0.0825,-0.075,-0.0675,-0.06,-0.0525,-0.045,-0.0375,-0.03,-0.0225,-0.015,-0.0075,0,0.0075,0.015,0.0225,0.03,0.0375,0.045,0.0525,0.06,0.0675,0.075,0.0825,0.09,0.0975,0.105,0.1125,0.12,0.1275,0.135,0.1425,0.15,0.1575,0.165,0.1725,0.18,0.1875,0.195,0.2025,0.21,0.2175,0.225,0.2325,0.24,0.2475,0.255,0.2625],
            "tickCount": 80,
            "labelExpr": "abs(round(datum.value*10000) % 300) == 0 ? (datum.value < 0 ? '-' : '') + format(abs(datum.value), '.3f') : ''",
            "labelOverlap": false,
            "labelBound": false,
            "title": "-(d/dT) Fluorescence (498-640)",
            "domain": false,
            "grid": false,
            "tickSize": {"condition": {"test": "abs(round(datum.value*10000) % 300) == 0", "value": 7}, "value": 4},
            "tickColor": "#333333",
            "labelFont": "Liberation Sans",
            "labelFontSize": 18,
            "labelColor": "#151515",
            "labelPadding": 2,
            "titleFont": "Liberation Sans",
            "titleFontSize": 17,
            "titleFontWeight": "bold",
            "titleColor": "#111111",
            "titleX": -71,
            "titleBaseline": "middle",
            "titleAlign": "center"
          }
        },
        "detail": {"field": "c", "type": "nominal"}
      }
    },
    {
      "data": {"name": "heterozygous"},
      "mark": {"type": "line", "color": "#2ec94b", "strokeWidth": 1.5, "interpolate": "cardinal", "tension": 0, "clip": true},
      "encoding": {
        "x": {"field": "t", "type": "quantitative"},
        "y": {"field": "v", "type": "quantitative"},
        "detail": {"field": "c", "type": "nominal"}
      }
    },
    {
      "data": {"name": "homozygous"},
      "mark": {"type": "line", "color": "#cf1b1b", "strokeWidth": 1.5, "interpolate": "cardinal", "tension": 0, "clip": true},
      "encoding": {
        "x": {"field": "t", "type": "quantitative"},
        "y": {"field": "v", "type": "quantitative"},
        "detail": {"field": "c", "type": "nominal"}
      }
    },
    {
      "data": {"name": "arrows"},
      "mark": {"type": "rule", "color": "black", "strokeWidth": 2},
      "encoding": {
        "x": {"field": "t", "type": "quantitative"},
        "y": {"field": "v", "type": "quantitative"},
        "x2": {"field": "t2"},
        "y2": {"field": "v2"}
      }
    },
    {
      "data": {"name": "arrows"},
      "transform": [{"filter": "datum.n == 'Homozigot'"}],
      "mark": {"type": "point", "shape": "M0,0L0.7,2L-0.7,2Z", "size": 225, "filled": true, "color": "black", "opacity": 1, "angle": 108.3},
      "encoding": {
        "x": {"field": "t2", "type": "quantitative"},
        "y": {"field": "v2", "type": "quantitative"}
      }
    },
    {
      "data": {"name": "arrows"},
      "transform": [{"filter": "datum.n == 'Wildtype'"}],
      "mark": {"type": "point", "shape": "M0,0L0.7,2L-0.7,2Z", "size": 225, "filled": true, "color": "black", "opacity": 1, "angle": 251.3},
      "encoding": {
        "x": {"field": "t2", "type": "quantitative"},
        "y": {"field": "v2", "type": "quantitative"}
      }
    },
    {
      "data": {"name": "arrows"},
      "transform": [{"filter": "datum.n == 'Heterozigot'"}],
      "mark": {"type": "point", "shape": "M0,0L0.7,2L-0.7,2Z", "size": 225, "filled": true, "color": "black", "opacity": 1, "angle": 254.9},
      "encoding": {
        "x": {"field": "t2", "type": "quantitative"},
        "y": {"field": "v2", "type": "quantitative"}
      }
    },
    {
      "data": {"name": "labels"},
      "mark": {"type": "text", "font": "Lato", "fontSize": 27, "fontWeight": "bold", "color": "black", "align": "center", "baseline": "alphabetic"},
      "encoding": {
        "x": {"field": "t", "type": "quantitative"},
        "y": {"field": "v", "type": "quantitative"},
        "text": {"field": "label", "type": "nominal"}
      }
    }
  ]
}
